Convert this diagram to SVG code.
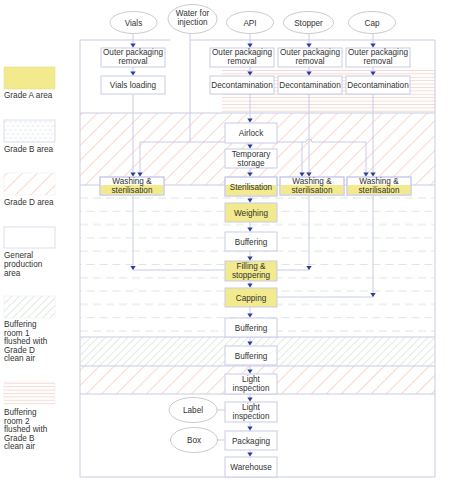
<svg xmlns="http://www.w3.org/2000/svg" xmlns:xlink="http://www.w3.org/1999/xlink" width="450" height="495" viewBox="0 0 450 495">
<style>
text{font-family:"Liberation Sans",Arial,Helvetica,sans-serif;font-size:8.2px;fill:#333;text-anchor:middle}
.lg{text-anchor:start;font-size:8.2px}
.box{fill:#fff;stroke:#c9cbe8;stroke-width:1}
.ybox{fill:#f2ea8c;stroke:#c9cbe8;stroke-width:1}
.yel{fill:#f2ea8c}
.ell{fill:#fff;stroke:#bcbcbc;stroke-width:0.8}
.ln{fill:none;stroke:#c9cbe6;stroke-width:1}
.bd{fill:none;stroke:#c9cbe6;stroke-width:1}
.ah{fill:#2a3f9c}
</style>
<defs>
<pattern id="hPink" patternUnits="userSpaceOnUse" width="10.6" height="10.6" patternTransform="rotate(45)">
<line x1="0.5" y1="0" x2="0.5" y2="10.6" stroke="#f6cbbd" stroke-width="0.8"/>
</pattern>
<pattern id="hGreen" patternUnits="userSpaceOnUse" width="5.3" height="5.3" patternTransform="rotate(45)">
<line x1="0.5" y1="0" x2="0.5" y2="5.3" stroke="#cfe0d2" stroke-width="0.7"/>
</pattern>
<pattern id="stripes" patternUnits="userSpaceOnUse" x="0" y="70" width="10" height="3.4">
<line x1="0" y1="0.5" x2="10" y2="0.5" stroke="#f4c6bc" stroke-width="0.7"/>
</pattern>
<pattern id="dashB" patternUnits="userSpaceOnUse" x="80" y="197" width="13" height="26.6">
<line x1="0" y1="1" x2="8" y2="1" stroke="#dce5e5" stroke-width="1"/>
<line x1="6.5" y1="14.3" x2="13" y2="14.3" stroke="#dce5e5" stroke-width="1"/>
<line x1="0" y1="14.3" x2="1.5" y2="14.3" stroke="#dce5e5" stroke-width="1"/>
</pattern>
<pattern id="dashL" patternUnits="userSpaceOnUse" x="4" y="120" width="5" height="8">
<line x1="0" y1="2" x2="3" y2="2" stroke="#dde5ea" stroke-width="0.8"/>
<line x1="2.5" y1="6" x2="5" y2="6" stroke="#dde5ea" stroke-width="0.8"/>
<line x1="0" y1="6" x2="0.5" y2="6" stroke="#dde5ea" stroke-width="0.8"/>
</pattern>
<path id="ah" d="M-2.7,-4 L2.7,-4 L0,0 Z"/>
</defs>
<rect width="450" height="495" fill="#fff"/>

<g id="regions">
<rect x="222" y="70" width="213" height="43" fill="url(#stripes)"/>
<rect x="80" y="113" width="355" height="72" fill="url(#hPink)"/>
<rect x="80" y="185" width="355" height="152" fill="url(#dashB)"/>
<rect x="80" y="337" width="355" height="29" fill="url(#hGreen)"/>
<rect x="80" y="366" width="355" height="28" fill="url(#hPink)"/>
<path class="bd" d="M170,40 H80 V477 H435 V40 H190"/>
<path class="bd" d="M80,113 H435 M80,185 H435 M80,337 H435 M80,366 H435 M80,394 H435"/>
</g>

<g id="legend">
<rect x="4" y="67" width="51" height="22" fill="#f2ea8c" stroke="#e6dd8a" stroke-width="0.6"/>
<text class="lg" x="4" y="98">Grade A area</text>
<rect x="4" y="120" width="51" height="22" fill="url(#dashL)" stroke="#d3d5ea" stroke-width="0.8"/>
<text class="lg" x="4" y="152">Grade B area</text>
<rect x="4" y="173" width="51" height="22" fill="url(#hPink)" stroke="#eee" stroke-width="0.6"/>
<text class="lg" x="4" y="205">Grade D area</text>
<rect x="4" y="227" width="51" height="21" fill="#fff" stroke="#d3d5ea" stroke-width="0.8"/>
<text class="lg" x="4" y="258">General</text>
<text class="lg" x="4" y="267">production</text>
<text class="lg" x="4" y="276">area</text>
<rect x="4" y="296" width="51" height="22" fill="url(#hGreen)" stroke="#eee" stroke-width="0.6"/>
<text class="lg" x="4" y="327">Buffering</text>
<text class="lg" x="4" y="335.5">room 1</text>
<text class="lg" x="4" y="344">flushed with</text>
<text class="lg" x="4" y="352.5">Grade D</text>
<text class="lg" x="4" y="361">clean air</text>
<rect x="4" y="382" width="51" height="22" fill="url(#stripes)" stroke="#eee" stroke-width="0.6"/>
<text class="lg" x="4" y="415">Buffering</text>
<text class="lg" x="4" y="423.5">room 2</text>
<text class="lg" x="4" y="432">flushed with</text>
<text class="lg" x="4" y="440.5">Grade B</text>
<text class="lg" x="4" y="449">clean air</text>
</g>

<g id="connectors">
<path class="ln" d="M133,33 V270 H225"/>
<path class="ln" d="M250,33 V457"/>
<path class="ln" d="M309,33 V270 H277"/>
<path class="ln" d="M373,33 V297 H277"/>
<path class="ln" d="M190,34 V142 M140,177 V142 H306 a3,3 0 0 1 6,0 H366 V177 M302,142 V177"/>
<path class="ln" d="M217,410 H225 M217,440 H225"/>
<g class="ah">
<use xlink:href="#ah" x="133" y="47.5"/><use xlink:href="#ah" x="133" y="75.5"/><use xlink:href="#ah" x="133" y="176.5"/><use xlink:href="#ah" x="133" y="270"/>
<use xlink:href="#ah" x="140" y="176.5"/><use xlink:href="#ah" x="302" y="176.5"/><use xlink:href="#ah" x="366" y="176.5"/>
<use xlink:href="#ah" x="309" y="47.5"/><use xlink:href="#ah" x="309" y="75.5"/><use xlink:href="#ah" x="309" y="176.5"/><use xlink:href="#ah" x="309" y="270"/>
<use xlink:href="#ah" x="373" y="47.5"/><use xlink:href="#ah" x="373" y="75.5"/><use xlink:href="#ah" x="373" y="176.5"/><use xlink:href="#ah" x="373" y="297"/>
<use xlink:href="#ah" x="250" y="47.5"/><use xlink:href="#ah" x="250" y="75.5"/><use xlink:href="#ah" x="250" y="122.5"/><use xlink:href="#ah" x="250" y="148.5"/><use xlink:href="#ah" x="250" y="176.5"/><use xlink:href="#ah" x="250" y="202.5"/><use xlink:href="#ah" x="250" y="231.5"/><use xlink:href="#ah" x="250" y="260.5"/><use xlink:href="#ah" x="250" y="287.5"/><use xlink:href="#ah" x="250" y="317.5"/><use xlink:href="#ah" x="250" y="345.5"/><use xlink:href="#ah" x="250" y="373.5"/><use xlink:href="#ah" x="250" y="401.5"/><use xlink:href="#ah" x="250" y="430.5"/><use xlink:href="#ah" x="250" y="456.5"/>
</g>
</g>

<g id="vials"><ellipse class="ell" cx="133.5" cy="22.5" rx="23.5" ry="11"/><text x="133.5" y="25.5">Vials</text></g>
<g id="water"><ellipse class="ell" cx="192.5" cy="19" rx="24.5" ry="14.5"/><text x="192.5" y="16.2">Water for</text><text x="192.5" y="25.2">injection</text></g>
<g id="api"><ellipse class="ell" cx="250" cy="22.5" rx="23.5" ry="11"/><text x="250" y="25.5">API</text></g>
<g id="stopper"><ellipse class="ell" cx="308.5" cy="22.5" rx="25" ry="11"/><text x="308.5" y="25.5">Stopper</text></g>
<g id="cap"><ellipse class="ell" cx="372" cy="22.5" rx="23.5" ry="11"/><text x="372" y="25.5">Cap</text></g>

<g id="opr-vials"><rect class="box" x="101" y="48" width="64" height="19"/><text x="133" y="55.2">Outer packaging</text><text x="133" y="64.2">removal</text></g>
<g id="opr-api"><rect class="box" x="210" y="48" width="64" height="19"/><text x="242" y="55.2">Outer packaging</text><text x="242" y="64.2">removal</text></g>
<g id="opr-stopper"><rect class="box" x="278" y="48" width="64" height="19"/><text x="310" y="55.2">Outer packaging</text><text x="310" y="64.2">removal</text></g>
<g id="opr-cap"><rect class="box" x="346" y="48" width="64" height="19"/><text x="378" y="55.2">Outer packaging</text><text x="378" y="64.2">removal</text></g>

<g id="vials-loading"><rect class="box" x="101" y="76" width="64" height="18"/><text x="133" y="88">Vials loading</text></g>
<g id="decon-api"><rect class="box" x="210" y="76" width="64" height="18"/><text x="242" y="88">Decontamination</text></g>
<g id="decon-stopper"><rect class="box" x="278" y="76" width="64" height="18"/><text x="310" y="88">Decontamination</text></g>
<g id="decon-cap"><rect class="box" x="346" y="76" width="64" height="18"/><text x="378" y="88">Decontamination</text></g>

<g id="airlock"><rect class="box" x="225" y="123" width="52" height="20"/><text x="251" y="136">Airlock</text></g>
<g id="temp-storage"><rect class="box" x="225" y="149" width="52" height="19"/><text x="251" y="156.6">Temporary</text><text x="251" y="165.5">storage</text></g>

<g id="wash-vials"><rect class="box" x="100" y="177" width="64" height="18"/><rect class="yel" x="100.5" y="185" width="63" height="9.5"/><rect x="100" y="177" width="64" height="18" fill="none" stroke="#c9cbe8"/><text x="132" y="183.6">Washing &amp;</text><text x="132" y="192.5">sterilisation</text></g>
<g id="sterilisation"><rect class="box" x="225" y="177" width="52" height="19"/><rect class="yel" x="225.5" y="185" width="51" height="10.5"/><rect x="225" y="177" width="52" height="19" fill="none" stroke="#c9cbe8"/><text x="251" y="189.5">Sterilisation</text></g>
<g id="wash-stopper"><rect class="box" x="280" y="177" width="64" height="18"/><rect class="yel" x="280.5" y="185" width="63" height="9.5"/><rect x="280" y="177" width="64" height="18" fill="none" stroke="#c9cbe8"/><text x="312" y="183.6">Washing &amp;</text><text x="312" y="192.5">sterilisation</text></g>
<g id="wash-cap"><rect class="box" x="347" y="177" width="64" height="18"/><rect class="yel" x="347.5" y="185" width="63" height="9.5"/><rect x="347" y="177" width="64" height="18" fill="none" stroke="#c9cbe8"/><text x="379" y="183.6">Washing &amp;</text><text x="379" y="192.5">sterilisation</text></g>

<g id="weighing"><rect class="ybox" x="225" y="203" width="52" height="19"/><text x="251" y="215.5">Weighing</text></g>
<g id="buffering-1"><rect class="box" x="225" y="232" width="52" height="19"/><text x="251" y="244.5">Buffering</text></g>
<g id="filling"><rect class="ybox" x="225" y="261" width="52" height="20"/><text x="251" y="268.7">Filling &amp;</text><text x="251" y="277.6">stoppering</text></g>
<g id="capping"><rect class="ybox" x="225" y="288" width="52" height="19"/><text x="251" y="300.5">Capping</text></g>
<g id="buffering-2"><rect class="box" x="225" y="318" width="52" height="19"/><text x="251" y="330.5">Buffering</text></g>
<g id="buffering-3"><rect class="box" x="225" y="346" width="52" height="19"/><text x="251" y="358.5">Buffering</text></g>
<g id="light-1"><rect class="box" x="225" y="374" width="52" height="20"/><text x="251" y="381.7">Light</text><text x="251" y="390.6">inspection</text></g>
<g id="label"><ellipse class="ell" cx="193" cy="410" rx="24" ry="12.5"/><text x="193" y="413">Label</text></g>
<g id="light-2"><rect class="box" x="225" y="402" width="52" height="20"/><text x="251" y="409.7">Light</text><text x="251" y="418.6">inspection</text></g>
<g id="box"><ellipse class="ell" cx="194" cy="440" rx="23.5" ry="12.5"/><text x="194" y="443">Box</text></g>
<g id="packaging"><rect class="box" x="225" y="431" width="52" height="19"/><text x="251" y="443.5">Packaging</text></g>
<g id="warehouse"><rect class="box" x="225" y="457" width="52" height="20"/><text x="251" y="470">Warehouse</text></g>
</svg>
